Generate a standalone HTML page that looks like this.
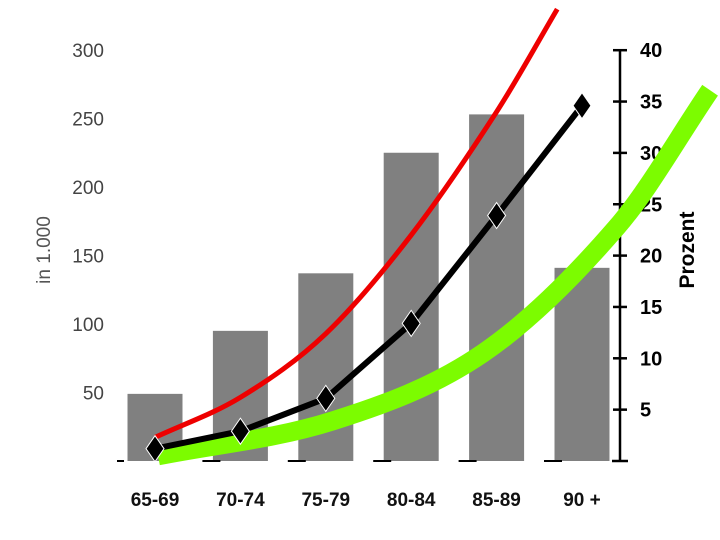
<!DOCTYPE html>
<html><head><meta charset="utf-8"><style>
body{margin:0;background:#fff}
svg{display:block;font-family:"Liberation Sans",sans-serif}
</style></head><body>
<svg id="c" width="720" height="540" viewBox="0 0 720 540">
<g id="bars"></g>
<g id="axes"></g>
<g id="lines"></g>
<text x="50" y="250" font-size="19" fill="#555" text-anchor="middle" transform="rotate(-90 50 250)">in 1.000</text>
<text x="694" y="250" font-size="21" font-weight="bold" text-anchor="middle" transform="rotate(-90 694 250)">Prozent</text>
</svg>
<script>
const categories=["65-69","70-74","75-79","80-84","85-89","90 +"];
const barValues=[49,95,137,225,253,141];
const blackValues=[1.2,2.9,6.1,13.4,23.9,34.6];
const redIdx=[0,1,2,3,4,4.71];
const redValues=[2.3,6.2,12.4,22.0,34.0,44.0];
const greenIdx=[0.035,2.08,3.84,5.41,6.5];
const greenValues=[0.5,3.9,10.5,22.8,36.1];
const leftTicks=[50,100,150,200,250,300];
const rightTicks=[5,10,15,20,25,30,35,40];
const NS="http://www.w3.org/2000/svg";
const base=461;
const xC=i=>155+i*85.4;
const yL=v=>base-v*1.37;
const yR=v=>base-v*10.27;
function mk(t,a,p){const e=document.createElementNS(NS,t);for(const k in a)e.setAttribute(k,a[k]);p.appendChild(e);return e;}
const bars=document.getElementById('bars'),axes=document.getElementById('axes'),lines=document.getElementById('lines');
barValues.forEach((v,i)=>{
 const r=mk('rect',{x:xC(i)-27.5,y:yL(v),width:55,height:base-yL(v),fill:'#808080'},bars);
 
 
 const t=mk('text',{x:xC(i),y:506,'font-size':19,'text-anchor':'middle','font-weight':'bold',fill:'#111'},axes);t.textContent=categories[i];
 
 
});
for(let i=0;i<6;i++){
 const l=mk('line',{x1:i==0?117:xC(i)-38,x2:i==0?124:xC(i)-20,y1:base,y2:base,stroke:'#000','stroke-width':2},axes);
 
 
}
const ax=mk('line',{x1:620,x2:620,y1:50,y2:base,stroke:'#000','stroke-width':2.5},axes);


mk('line',{x1:612,x2:628,y1:base,y2:base,stroke:'#000','stroke-width':2.5},axes);
leftTicks.forEach(v=>{
 const t=mk('text',{x:104,y:yL(v)+7,'font-size':19,'text-anchor':'end',fill:'#444'},axes);t.textContent=v;
 
 
});
rightTicks.forEach(v=>{
 mk('line',{x1:613,x2:627,y1:yR(v),y2:yR(v),stroke:'#000','stroke-width':2.5},axes);
 const t=mk('text',{x:640,y:yR(v)+7,'font-size':20,'font-weight':'bold'},axes);t.textContent=v;
 
 
});
function smooth(pts){
 let d='M'+pts[0][0]+','+pts[0][1];
 for(let i=0;i<pts.length-1;i++){
  const p0=pts[Math.max(0,i-1)],p1=pts[i],p2=pts[i+1],p3=pts[Math.min(pts.length-1,i+2)];
  const t1=(p2[0]-p1[0])/(p2[0]-p0[0]||1),t2=(p2[0]-p1[0])/(p3[0]-p1[0]||1);
  d+=' C'+(p1[0]+(p2[0]-p0[0])*t1/3)+','+(p1[1]+(p2[1]-p0[1])*t1/3)+' '+(p2[0]-(p3[0]-p1[0])*t2/3)+','+(p2[1]-(p3[1]-p1[1])*t2/3)+' '+p2[0]+','+p2[1];
 }
 return d;
}
const g=mk('path',{d:smooth(greenIdx.map((x,i)=>[xC(x),yR(greenValues[i])])),fill:'none',stroke:'#7cfc00','stroke-width':19},lines);


const r=mk('path',{d:smooth(redIdx.map((x,i)=>[xC(x),yR(redValues[i])])),fill:'none',stroke:'#ee0000','stroke-width':5},lines);


const b=mk('polyline',{points:blackValues.map((v,i)=>xC(i)+','+yR(v)).join(' '),fill:'none',stroke:'#000','stroke-width':6},lines);


blackValues.forEach((v,i)=>{
 const x=xC(i),y=yR(v);
 const m=mk('polygon',{points:`${x},${y-13} ${x+9},${y} ${x},${y+13} ${x-9},${y}`,fill:'#000',stroke:'#fff','stroke-width':1},lines);
 
 
});
</script>
</body></html>
